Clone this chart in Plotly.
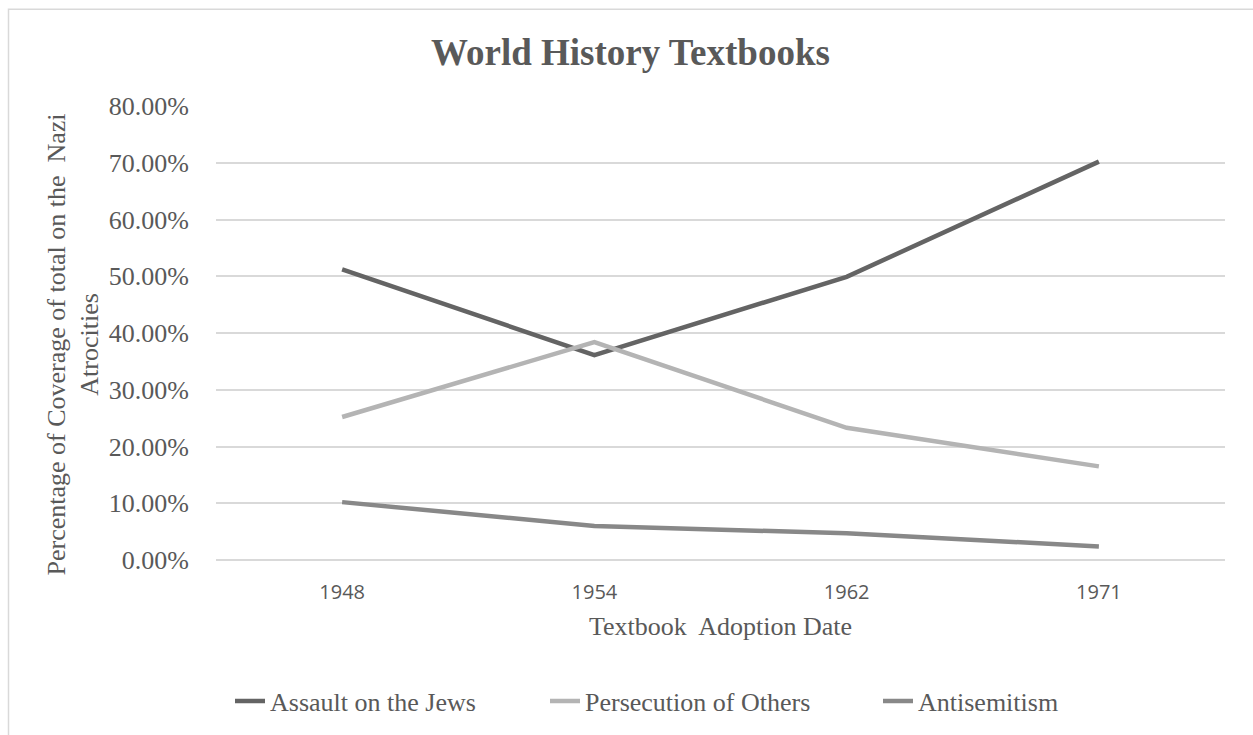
import plotly.graph_objects as go

years = ["1948", "1954", "1962", "1971"]
assault = [0.512, 0.361, 0.499, 0.702]
persecution = [0.252, 0.384, 0.233, 0.165]
antisemitism = [0.102, 0.060, 0.047, 0.024]

series_names = ["Assault on the Jews", "Persecution of Others", "Antisemitism"]
colors = ["#646464", "#b4b4b4", "#888888"]

SERIF = "Liberation Serif, Times New Roman, serif"
TXT = "#595959"

fig = go.Figure()
for i, (name, vals) in enumerate(zip(series_names, [assault, persecution, antisemitism])):
    fig.add_trace(go.Scatter(
        x=years, y=vals, name=name, mode="lines",
        line=dict(color=colors[i], width=4.5),
        legend="legend" if i == 0 else f"legend{i+1}",
    ))

W, H = 1253, 735
L, R, T, B = 216, 28, 106, 174
pw = W - L - R
ph = H - T - B

def px2x(px):
    return (px - L) / pw

def py2y(py):
    return (H - B - py) / ph

leg_common = dict(orientation="h", yanchor="middle", xanchor="left",
                  font=dict(family=SERIF, size=26, color=TXT),
                  bgcolor="rgba(0,0,0,0)", itemwidth=30)

fig.update_layout(
    width=W, height=H,
    margin=dict(l=L, r=R, t=T, b=B),
    paper_bgcolor="white", plot_bgcolor="white",
    title=dict(text="<b>World History Textbooks</b>",
               font=dict(family=SERIF, size=37, color=TXT),
               x=630.5 / W, xanchor="center", y=1 - 52 / H, yanchor="middle"),
    xaxis=dict(type="category", range=[-0.5, 3.5], showgrid=False,
               showline=False, zeroline=False, ticks="",
               tickfont=dict(family="Open Sans, sans-serif", size=20, color=TXT),
               ticklabelstandoff=18,
               title=dict(text="Textbook  Adoption Date",
                          font=dict(family=SERIF, size=26, color=TXT),
                          standoff=12)),
    yaxis=dict(range=[0, 0.8], dtick=0.1, tickformat=".2%",
               showgrid=True, gridcolor="#d9d9d9", gridwidth=1.5,
               zeroline=True, zerolinecolor="#d9d9d9", zerolinewidth=1.5,
               showline=False, ticks="",
               tickfont=dict(family=SERIF, size=26, color=TXT),
               ticklabelstandoff=26),
    legend=dict(x=px2x(230), y=py2y(701), **leg_common),
    legend2=dict(x=px2x(545), y=py2y(701), **leg_common),
    legend3=dict(x=px2x(878), y=py2y(701), **leg_common),
    showlegend=True,
)

fig.add_annotation(
    text="Percentage of Coverage of total on the  Nazi<br>Atrocities",
    xref="paper", yref="paper", x=px2x(73), y=py2y(345),
    xanchor="center", yanchor="middle", textangle=-90, showarrow=False,
    font=dict(family=SERIF, size=26, color=TXT),
)

fig.add_shape(type="rect", xref="paper", yref="paper",
              x0=px2x(8.5), x1=px2x(1270), y0=py2y(760), y1=py2y(9),
              line=dict(color="#d9d9d9", width=1.5), fillcolor="rgba(0,0,0,0)",
              layer="below")

fig.write_html("out.html")
